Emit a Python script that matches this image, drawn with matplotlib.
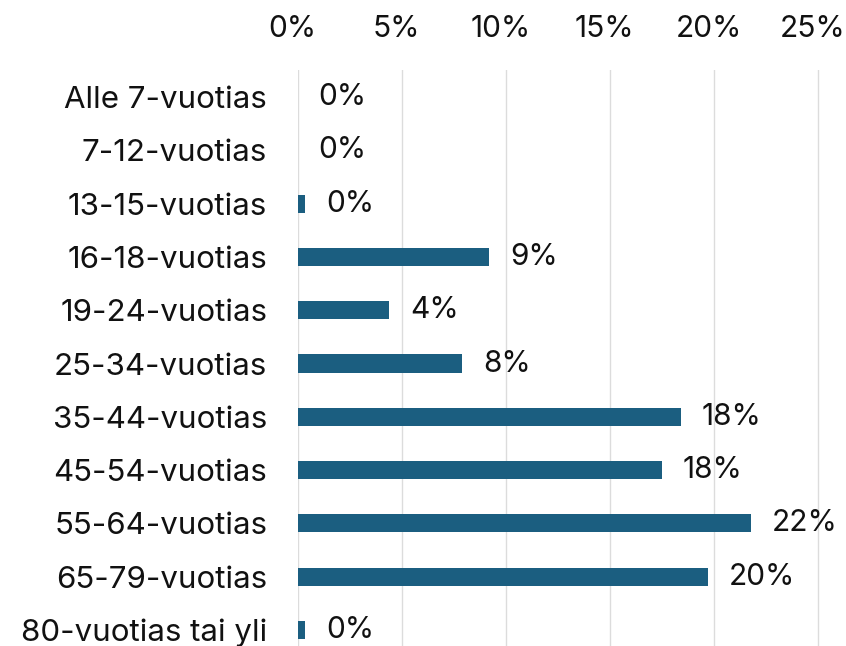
import matplotlib
matplotlib.use('Agg')
import matplotlib.pyplot as plt
import matplotlib.transforms as mtransforms
from matplotlib.ticker import FuncFormatter

categories = ['Alle 7-vuotias', '7-12-vuotias', '13-15-vuotias', '16-18-vuotias',
              '19-24-vuotias', '25-34-vuotias', '35-44-vuotias', '45-54-vuotias',
              '55-64-vuotias', '65-79-vuotias', '80-vuotias tai yli']
values = [0.0, 0.0, 0.35, 9.2, 4.4, 7.9, 18.4, 17.5, 21.8, 19.7, 0.35]
value_labels = ['0%', '0%', '0%', '9%', '4%', '8%', '18%', '18%', '22%', '20%', '0%']
x_ticks = [0, 5, 10, 15, 20, 25]

plt.rcParams['font.family'] = ['Inter', 'DejaVu Sans']
bar_color = '#1b5e80'

fig = plt.figure(figsize=(8.46, 6.46), dpi=100)
ax = fig.add_axes([0.352, 0.0, 0.627, 0.891])

y = list(range(len(categories)))
ax.barh(y, values, height=0.34, color=bar_color, zorder=2)
for yi, v, lab in zip(y, values, value_labels):
    ax.annotate(lab, xy=(v, yi), xytext=(15, 0), textcoords='offset points',
                ha='left', va='center', fontsize=21.5, color='#111111')

ax.set_xlim(0, 25.5)
ax.set_ylim(10.3, -0.5)
ax.set_yticks(y)
ax.set_yticklabels(categories, fontsize=22.5, color='#111111')
ax.set_xticks(x_ticks)
ax.xaxis.set_major_formatter(FuncFormatter(lambda v, p: f'{v:.0f}%'))
ax.xaxis.tick_top()
ax.tick_params(axis='x', length=0, labelsize=21.5, pad=20, labelcolor='#111111')
ax.tick_params(axis='y', length=0, pad=22)
ax.grid(axis='x', color='#dcdcdc', linewidth=1, zorder=0)
ax.grid(axis='y', visible=False)
for s in ax.spines.values():
    s.set_visible(False)

# nudge top tick labels a little left, as in the original
shift = mtransforms.ScaledTranslation(-5 / 100, 0, fig.dpi_scale_trans)
for lbl in ax.get_xticklabels():
    lbl.set_transform(lbl.get_transform() + shift)

fig.savefig('out.png', dpi=100)
